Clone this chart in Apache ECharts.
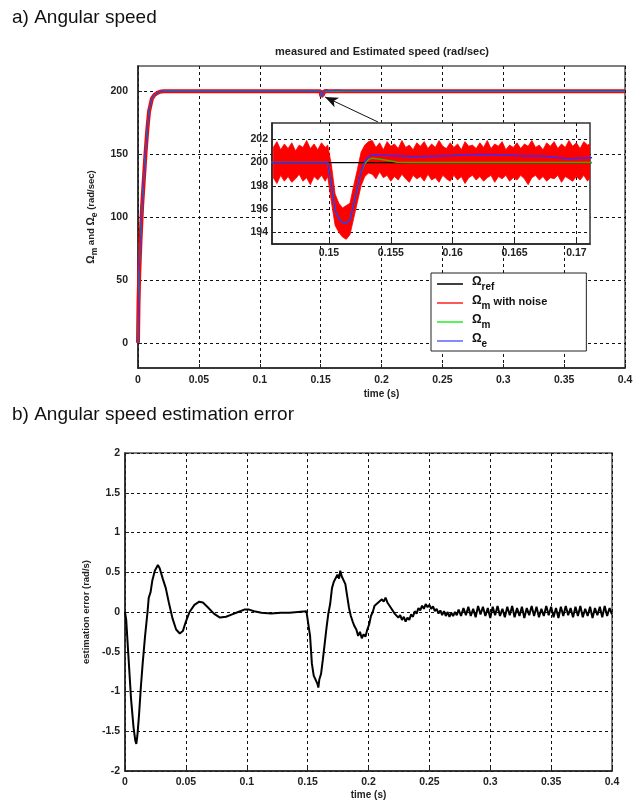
<!DOCTYPE html>
<html>
<head>
<meta charset="utf-8">
<title>Angular speed</title>
<script src="https://cdn.jsdelivr.net/npm/echarts@6/dist/echarts.min.js"></script>
<style>
  html, body { margin: 0; padding: 0; background: #fff; }
  #chart { width: 642px; height: 801px; }
</style>
</head>
<body>
<div id="chart"></div>
<script>
// a) speed curves (rad/sec) against time (s)
const speedTime = [0, 0.0004, 0.001, 0.002, 0.0034, 0.0048, 0.0062, 0.0077, 0.0091, 0.0114, 0.0135, 0.0156, 0.018, 0.021,
    0.1499, 0.1502, 0.1505, 0.1508, 0.1511, 0.1514, 0.1517, 0.152, 0.1523, 0.1526, 0.1529, 0.1532,
    0.1535, 0.154, 0.1549, 0.1555, 0.1568, 0.1584, 0.16, 0.1621, 0.1637, 0.1654, 0.1675, 0.1686, 0.1694, 0.1702, 0.1709, 0.18, 0.4];
const speedRef = [0, 30, 55, 80, 109, 130, 151, 170, 184, 194, 197, 198.4, 199.5, 200,
    200, 200, 200, 200, 200, 200, 200, 200, 200, 200, 200, 200,
    200, 200, 200, 200, 200, 200, 200, 200, 200, 200, 200, 200, 200, 200, 200, 200, 200];
const speedMeas = [0, 30, 55, 80, 109, 130, 151, 170, 184, 194, 197, 198.4, 199.5, 200,
    200, 198.1, 195.9, 195.2, 194.85, 194.78, 195.1, 196.4, 197.8, 199.2, 199.9, 200.25,
    200.38, 200.3, 200.15, 200.03, 200, 200, 200, 200, 200, 200, 200, 200, 200, 200, 200, 200, 200];
const speedEst = [0, 30, 55, 80, 109, 130, 151, 170, 184, 194, 197, 198.4, 199.5, 200,
    200, 198.1, 195.9, 195.2, 194.85, 194.78, 195.1, 196.4, 197.8, 199.2, 200.1, 200.5,
    200.66, 200.62, 200.6, 200.58, 200.5, 200.55, 200.6, 200.7, 200.67, 200.58, 200.55, 200.42, 200.33, 200.38, 200.42, 200.45, 200.45];

// noisy measurement envelope seen in the zoomed inset
const bandTime = [0.1455, 0.1458, 0.1461, 0.1464, 0.1467, 0.147, 0.1473, 0.1476, 0.1479, 0.1482,
    0.1485, 0.1488, 0.1491, 0.1494, 0.1497, 0.1499,
    0.1502, 0.1505, 0.1508, 0.1511, 0.1514, 0.1517, 0.152, 0.1523, 0.1526, 0.1529, 0.1532,
    0.1535, 0.1538, 0.1541, 0.1544, 0.1547, 0.155, 0.1553, 0.1556, 0.1559, 0.1562,
    0.1565, 0.1568, 0.1571, 0.1574, 0.1577, 0.158, 0.1583, 0.1586, 0.1589, 0.1592,
    0.1595, 0.1598, 0.1601, 0.1604, 0.1607, 0.161, 0.1613, 0.1616, 0.1619, 0.1622,
    0.1625, 0.1628, 0.1631, 0.1634, 0.1637, 0.164, 0.1643, 0.1646, 0.1649, 0.1652,
    0.1655, 0.1658, 0.1661, 0.1664, 0.1667, 0.167, 0.1673, 0.1676, 0.1679, 0.1682,
    0.1685, 0.1688, 0.1691, 0.1694, 0.1697, 0.17, 0.1703, 0.1706, 0.1709, 0.1711];
const bandUpper = [201.3, 201.8, 201.1, 201.6, 201.2, 201.7, 201.0, 201.5, 201.3, 201.9,
    201.2, 201.6, 201.1, 201.7, 201.3, 201.5,
    199.8, 197.3, 196.5, 196.1, 196.3, 196.5, 198.0, 199.4, 200.9, 201.5, 201.8,
    201.9, 201.3, 201.7, 201.1, 201.8, 201.4, 201.6, 201.2, 201.9, 201.3,
    201.5, 201.1, 201.7, 201.4, 201.8, 201.2, 201.6, 201.3, 201.9, 201.4,
    201.2, 201.7, 201.3, 201.6, 201.1, 201.8, 201.4, 201.5, 201.2, 201.7,
    201.3, 201.9, 201.2, 201.6, 201.4, 201.8, 201.1, 201.5, 201.3, 201.7,
    201.2, 201.6, 201.4, 201.9, 201.3, 201.5, 201.1, 201.7, 201.4, 201.8,
    201.2, 201.6, 201.3, 201.9, 201.4, 201.7, 201.2, 201.8, 201.5, 201.6];
const bandLower = [198.7, 198.2, 198.9, 198.4, 198.8, 198.3, 198.6, 199.0, 198.4, 198.7,
    198.1, 198.8, 198.5, 198.9, 198.4, 198.8,
    196.6, 194.6, 194.0, 193.6, 193.4, 193.8, 195.2, 196.6, 198.0, 198.8, 199.1,
    199.0, 198.6, 199.2, 198.7, 198.9, 198.4, 198.8, 198.5, 199.0, 198.6,
    198.3, 198.9, 198.6, 198.8, 198.4, 199.0, 198.5, 198.7, 198.3, 198.9,
    198.6, 198.4, 198.9, 198.5, 198.8, 198.2, 198.7, 198.9, 198.5, 198.8,
    198.4, 198.7, 198.9, 198.3, 198.8, 198.6, 198.9, 198.4, 198.7, 198.5,
    198.9, 198.6, 198.1, 198.7, 198.9, 198.5, 198.8, 198.4, 198.7, 198.6,
    198.9, 198.3, 198.8, 198.6, 198.4, 198.8, 198.5, 198.9, 198.4, 198.7];

// b) estimation error (rad/s)
const errTime = [0, 0.001, 0.003, 0.005, 0.007, 0.0085, 0.0093, 0.0102, 0.0115, 0.013,
    0.0145, 0.0165, 0.0185, 0.0195, 0.021, 0.0225, 0.0245, 0.027, 0.0285, 0.031,
    0.0335, 0.036, 0.039, 0.042, 0.045, 0.0475, 0.05, 0.053, 0.057, 0.061,
    0.064, 0.068, 0.073, 0.078, 0.083, 0.088, 0.093, 0.098, 0.102, 0.106,
    0.112, 0.12, 0.128, 0.135, 0.142, 0.149, 0.1505, 0.152, 0.1535, 0.155,
    0.1565, 0.158, 0.1588, 0.1596, 0.161, 0.1625, 0.164, 0.1655, 0.167, 0.1685,
    0.17, 0.1715, 0.173, 0.1745, 0.1758, 0.1768, 0.178, 0.1795, 0.181, 0.1825,
    0.184, 0.1855, 0.187, 0.1885, 0.19, 0.1915, 0.193, 0.1945, 0.196, 0.1975,
    0.199, 0.2005, 0.202, 0.2035, 0.205, 0.2065, 0.208, 0.2095, 0.211, 0.2125,
    0.214, 0.2155, 0.217, 0.2185, 0.22, 0.2215, 0.223, 0.2245, 0.226, 0.2275,
    0.229, 0.2305, 0.232, 0.2335, 0.235, 0.2365, 0.238, 0.2395, 0.241, 0.2425,
    0.244, 0.2455, 0.247, 0.2485, 0.25, 0.2515, 0.253, 0.2545, 0.256, 0.2575,
    0.259, 0.2605, 0.262, 0.2635, 0.265, 0.2665, 0.268, 0.2695, 0.271, 0.2725,
    0.274, 0.276, 0.278, 0.28, 0.282, 0.284, 0.286, 0.288, 0.29, 0.292,
    0.294, 0.296, 0.298, 0.3, 0.302, 0.304, 0.306, 0.308, 0.31, 0.312,
    0.314, 0.316, 0.318, 0.32, 0.322, 0.324, 0.326, 0.328, 0.33, 0.332,
    0.334, 0.336, 0.338, 0.34, 0.342, 0.344, 0.346, 0.348, 0.35, 0.352,
    0.354, 0.356, 0.358, 0.36, 0.362, 0.364, 0.366, 0.368, 0.37, 0.372,
    0.374, 0.376, 0.378, 0.38, 0.382, 0.384, 0.386, 0.388, 0.39, 0.392,
    0.394, 0.396, 0.398, 0.4];
const errValue = [0, -0.1, -0.6, -1.1, -1.45, -1.62, -1.66, -1.55, -1.3, -0.95,
    -0.65, -0.3, 0.0, 0.18, 0.25, 0.4, 0.52, 0.59, 0.55, 0.42,
    0.3, 0.12, -0.08, -0.22, -0.27, -0.24, -0.12, 0.0, 0.09, 0.13,
    0.12, 0.06, -0.02, -0.07, -0.06, -0.03, 0.0, 0.03, 0.03, 0.01,
    -0.01, -0.02, -0.01, -0.01, 0.0, 0.01, 0.0, -0.3, -0.65, -0.8,
    -0.82, -0.9, -0.95, -0.85, -0.78, -0.6, -0.4, -0.2, -0.02, 0.1,
    0.3, 0.38, 0.4, 0.47, 0.42, 0.52, 0.45, 0.46, 0.35, 0.2,
    0.05, -0.05, -0.12, -0.18, -0.22, -0.3, -0.25, -0.33, -0.28, -0.31,
    -0.22, -0.16, -0.05, 0.0, 0.08, 0.06, 0.12, 0.1, 0.16, 0.13,
    0.18, 0.12, 0.14, 0.05, 0.07, -0.02, 0.0, -0.07, -0.04, -0.1,
    -0.06, -0.12, -0.07, -0.1, -0.03, -0.06, 0.01, -0.02, 0.05, 0.02,
    0.08, 0.04, 0.1, 0.06, 0.09, 0.04, 0.07, 0.01, 0.04, -0.02,
    0.02, -0.04, 0.01, -0.05, 0.0, -0.06, -0.01, -0.05, 0.0, -0.04,
    0.03, -0.05, 0.05, -0.04, 0.065, -0.05, 0.04, -0.065, 0.075, -0.03,
    0.065, -0.05, 0.05, -0.075, 0.065, -0.04, 0.075, -0.05, 0.04, -0.065,
    0.065, -0.04, 0.075, -0.065, 0.05, -0.05, 0.065, -0.075, 0.05, -0.04,
    0.075, -0.05, 0.065, -0.065, 0.04, -0.05, 0.075, -0.04, 0.065, -0.065,
    0.05, -0.075, 0.065, -0.05, 0.075, -0.04, 0.05, -0.065, 0.065, -0.05,
    0.075, -0.065, 0.04, -0.05, 0.065, -0.075, 0.05, -0.04, 0.065, -0.065,
    0.075, -0.05, 0.05, -0.03];

// tick labels
const speedTicks = [0, 50, 100, 150, 200];
const zoomTimeTicks = [0.15, 0.155, 0.16, 0.165, 0.17];
const zoomSpeedTicks = [194, 196, 198, 200, 202];

// arrow from the inset to the dip (data coords of the main plot)
const arrowFrom = [0.1971, 175.5];
const arrowTo = [0.1536, 195.4];

const legendNames = ['ref', 'noise', 'meas', 'est'];
const legendLabels = {
    ref: '{o|Ω}{s|ref}',
    noise: '{o|Ω}{s|m}{t| with noise}',
    meas: '{o|Ω}{s|m}',
    est: '{o|Ω}{s|e}'
};

const zip = (xs, ys) => xs.map((x, i) => [x, ys[i]]);

const FONT = 'Liberation Sans, Arial, sans-serif';
const tickFont = { fontFamily: FONT, fontWeight: 'bold', fontSize: 10.5, color: '#222' };
const gridLine = { show: true, lineStyle: { color: '#111', type: [3, 3], width: 1 } };
const frameLine = { show: true, onZero: false, lineStyle: { color: '#222', width: 1.5 } };
const inTick = { show: true, inside: true, length: 4, lineStyle: { color: '#222' } };

const chart = echarts.init(document.getElementById('chart'));

const option = {
    animation: false,
    backgroundColor: '#fff',
    textStyle: { fontFamily: FONT },
    title: [
        { text: 'a) Angular speed', left: 12, top: 8, padding: 0,
          textStyle: { fontFamily: FONT, fontSize: 19, fontWeight: 'normal', color: '#111' } },
        { text: 'measured and Estimated speed (rad/sec)', left: 275, top: 46, padding: 0,
          textStyle: { fontFamily: FONT, fontSize: 11, fontWeight: 'bold', color: '#222' } },
        { text: 'b) Angular speed estimation error', left: 12, top: 405, padding: 0,
          textStyle: { fontFamily: FONT, fontSize: 19, fontWeight: 'normal', color: '#111' } }
    ],
    legend: {
        orient: 'vertical',
        left: 431,
        top: 273,
        data: legendNames,
        formatter: name => legendLabels[name],
        icon: 'rect',
        itemWidth: 26,
        itemHeight: 1.5,
        itemGap: 3,
        padding: [3, 39, 2, 6],
        backgroundColor: '#fff',
        borderColor: '#222',
        borderWidth: 1,
        borderRadius: 0,
        textStyle: {
            fontFamily: FONT,
            rich: {
                o: { fontSize: 12, fontWeight: 'bold', color: '#111', padding: [0, 0, 4, 4], verticalAlign: 'bottom' },
                s: { fontSize: 10, fontWeight: 'bold', color: '#111', verticalAlign: 'bottom' },
                t: { fontSize: 11, fontWeight: 'bold', color: '#111', padding: [0, 0, 4, 0], verticalAlign: 'bottom' }
            }
        },
        z: 20
    },
    grid: [
        { left: 138, top: 66, width: 487, height: 302, show: true, backgroundColor: '#fff', borderColor: '#555', borderWidth: 1.5 },
        { left: 272, top: 123, width: 318, height: 121, show: true, backgroundColor: '#fff', borderColor: '#333', borderWidth: 1.5, z: 10 },
        { left: 125, top: 453, width: 487, height: 318, show: true, backgroundColor: '#fff', borderColor: '#555', borderWidth: 1.5 }
    ],
    xAxis: [
        { gridIndex: 0, type: 'value', min: 0, max: 0.4, interval: 0.05,
          name: 'time (s)', nameLocation: 'middle', nameGap: 21,
          nameTextStyle: { fontFamily: FONT, fontWeight: 'bold', fontSize: 10, color: '#222' },
          axisLine: frameLine, axisTick: inTick, axisLabel: Object.assign({ margin: 7 }, tickFont), splitLine: gridLine },
        { gridIndex: 1, type: 'value', min: 0.1454, max: 0.1711, z: 10,
          axisLine: frameLine, axisTick: Object.assign({ customValues: zoomTimeTicks }, inTick),
          axisLabel: Object.assign({ margin: 4, customValues: zoomTimeTicks }, tickFont), splitLine: gridLine },
        { gridIndex: 2, type: 'value', min: 0, max: 0.4, interval: 0.05,
          name: 'time (s)', nameLocation: 'middle', nameGap: 19,
          nameTextStyle: { fontFamily: FONT, fontWeight: 'bold', fontSize: 10, color: '#222' },
          axisLine: frameLine, axisTick: inTick, axisLabel: Object.assign({ margin: 6 }, tickFont), splitLine: gridLine }
    ],
    yAxis: [
        { gridIndex: 0, type: 'value', min: -20, max: 220,
          name: '{o|Ω}{s|m}{t| and }{o|Ω}{s|e}{t| (rad/sec)}', nameLocation: 'middle', nameGap: 19,
          nameTextStyle: {
              rich: {
                  o: { fontFamily: FONT, fontSize: 10.5, fontWeight: 'bold', color: '#222', padding: [0, 0, 3, 0], verticalAlign: 'bottom' },
                  s: { fontFamily: FONT, fontSize: 8.5, fontWeight: 'bold', color: '#222', verticalAlign: 'bottom' },
                  t: { fontFamily: FONT, fontSize: 9.5, fontWeight: 'bold', color: '#222', padding: [0, 0, 3, 0], verticalAlign: 'bottom' }
              }
          },
          axisLine: frameLine, axisTick: Object.assign({ customValues: speedTicks }, inTick),
          axisLabel: Object.assign({ margin: 10, customValues: speedTicks }, tickFont), splitLine: gridLine },
        { gridIndex: 1, type: 'value', min: 193, max: 203.4, z: 10,
          axisLine: frameLine, axisTick: Object.assign({ customValues: zoomSpeedTicks }, inTick),
          axisLabel: Object.assign({ margin: 4, customValues: zoomSpeedTicks }, tickFont), splitLine: gridLine },
        { gridIndex: 2, type: 'value', min: -2, max: 2, interval: 0.5,
          name: 'estimation error (rad/s)', nameLocation: 'middle', nameGap: 33,
          nameTextStyle: { fontFamily: FONT, fontWeight: 'bold', fontSize: 9.5, color: '#222' },
          axisLine: frameLine, axisTick: inTick, axisLabel: Object.assign({ margin: 5 }, tickFont), splitLine: gridLine }
    ],
    series: [
        // main plot
        { name: 'ref', type: 'line', xAxisIndex: 0, yAxisIndex: 0, symbol: 'none',
          data: zip(speedTime, speedRef), lineStyle: { color: '#000', width: 1.5 }, itemStyle: { color: '#000' },
          markLine: {
              silent: true, symbol: ['none', 'arrow'], symbolSize: [8, 13],
              label: { show: false }, lineStyle: { color: '#111', width: 1, type: 'solid' },
              data: [[{ coord: arrowFrom }, { coord: arrowTo }]]
          } },
        { name: 'noise', type: 'line', xAxisIndex: 0, yAxisIndex: 0, symbol: 'none',
          data: zip(speedTime, speedMeas), lineStyle: { color: '#ff0000', width: 4 }, itemStyle: { color: '#ff2020' } },
        { name: 'meas', type: 'line', xAxisIndex: 0, yAxisIndex: 0, symbol: 'none',
          data: zip(speedTime, speedMeas), lineStyle: { color: '#00cc00', width: 1.2 }, itemStyle: { color: '#22ee22' } },
        { name: 'est', type: 'line', xAxisIndex: 0, yAxisIndex: 0, symbol: 'none',
          data: zip(speedTime, speedEst), lineStyle: { color: '#3535ff', width: 1.2 }, itemStyle: { color: '#6060ff' } },
        // inset zoom
        { name: 'ref', type: 'line', xAxisIndex: 1, yAxisIndex: 1, symbol: 'none', z: 12,
          data: zip(speedTime, speedRef), lineStyle: { color: '#000', width: 1.2 } },
        { name: 'noise', type: 'custom', xAxisIndex: 1, yAxisIndex: 1, z: 12, clip: true,
          data: bandTime.map((t, i) => [t, bandUpper[i], bandLower[i]]),
          encode: { x: 0, y: [1, 2] },
          renderItem: function (params, api) {
              if (params.dataIndex !== 0) return null;
              const top = bandTime.map((t, i) => api.coord([t, bandUpper[i]]));
              const bottom = bandTime.map((t, i) => api.coord([t, bandLower[i]])).reverse();
              return { type: 'polygon', shape: { points: top.concat(bottom) },
                       style: { fill: '#ff0000', stroke: '#ff0000', lineWidth: 0.8 } };
          } },
        { name: 'meas', type: 'line', xAxisIndex: 1, yAxisIndex: 1, symbol: 'none', z: 13,
          data: zip(speedTime, speedMeas), lineStyle: { color: '#44aa00', width: 1.5 } },
        { name: 'est', type: 'line', xAxisIndex: 1, yAxisIndex: 1, symbol: 'none', z: 13,
          data: zip(speedTime, speedEst), lineStyle: { color: '#3a2aff', width: 1.5 } },
        // estimation error
        { name: 'error', type: 'line', xAxisIndex: 2, yAxisIndex: 2, symbol: 'none',
          data: zip(errTime, errValue), lineStyle: { color: '#000', width: 2 } }
    ]
};

chart.setOption(option);
</script>
</body>
</html>
